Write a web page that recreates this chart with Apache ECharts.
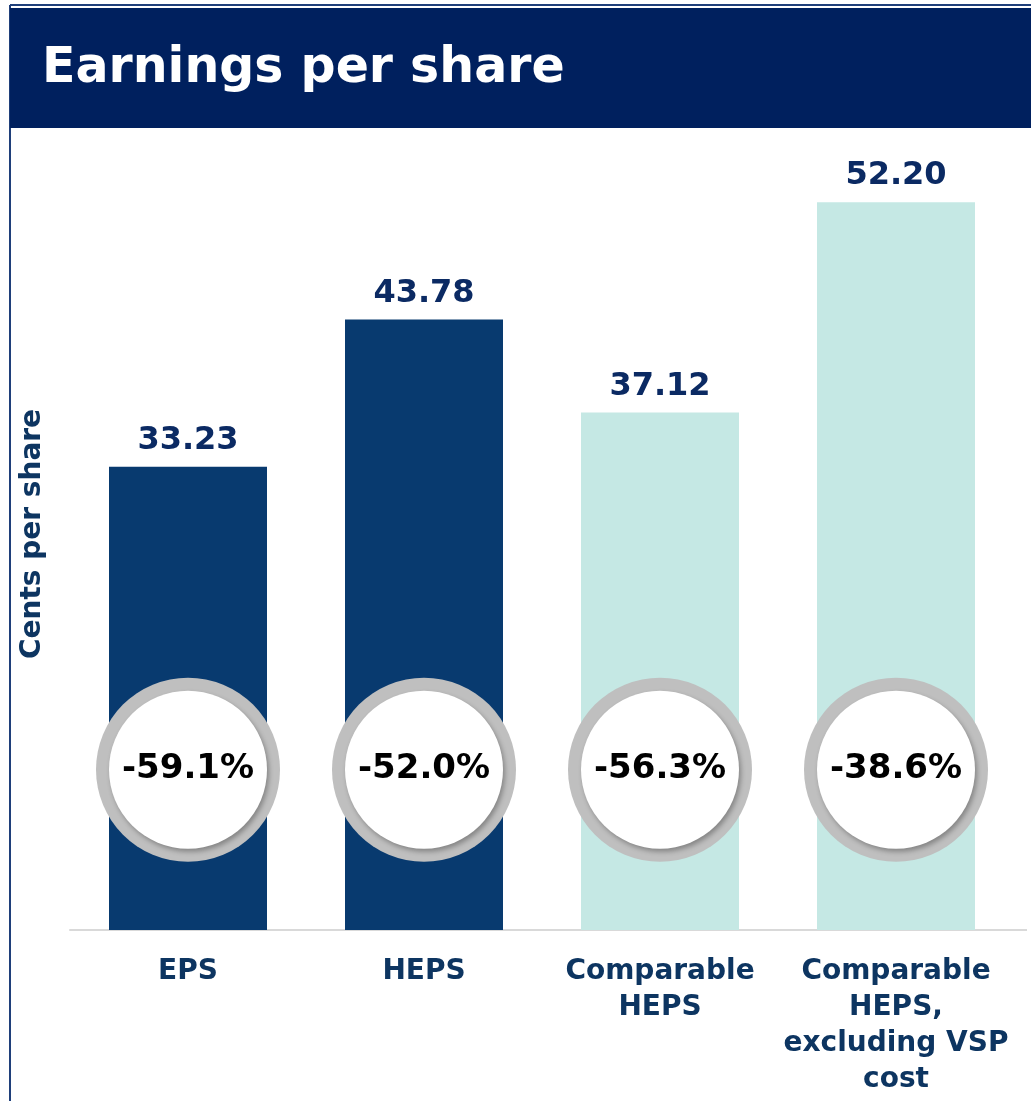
<!DOCTYPE html>
<html>
<head>
<meta charset="utf-8">
<title>Earnings per share</title>
<script src="https://cdn.jsdelivr.net/npm/echarts@6/dist/echarts.min.js"></script>
<style>
  html, body { margin: 0; padding: 0; background: #fff; }
  #chart { width: 1031px; height: 1101px; }
</style>
</head>
<body>
<div id="chart"></div>
<script>
// data
const categories = ['EPS', 'HEPS', 'Comparable\nHEPS', 'Comparable\nHEPS,\nexcluding VSP\ncost']
const centsPerShare = [33.23, 43.78, 37.12, 52.20]
const changes = ['-59.1%', '-52.0%', '-56.3%', '-38.6%']
const barColors = ['#083a6f', '#083a6f', '#c5e8e4', '#c5e8e4']

const fontFamily = '"DejaVu Sans", Verdana, sans-serif'
const navy = '#0b2a63'
const ringLevel = 11.5 // where the % badges sit, in axis units

const chart = echarts.init(document.getElementById('chart'))

chart.setOption({
  animation: false,
  textStyle: { fontFamily: fontFamily },
  graphic: [
    { type: 'line', shape: { x1: 10, y1: 5, x2: 1031, y2: 5 }, style: { stroke: '#1f3f7a', lineWidth: 2 } },
    { type: 'line', shape: { x1: 10, y1: 5, x2: 10, y2: 1101 }, style: { stroke: '#1f3f7a', lineWidth: 2 } },
    { type: 'rect', shape: { x: 10, y: 8, width: 1021, height: 120 }, style: { fill: '#00205e' } },
    // baseline runs a little past the last bar on the slide
    { type: 'line', shape: { x1: 1013, y1: 930, x2: 1027, y2: 930 }, style: { stroke: '#d9d9d9', lineWidth: 2 } },
    {
      type: 'text',
      left: 42,
      top: 45,
      style: {
        text: 'Earnings per share',
        fill: '#fff',
        font: 'bold 49px ' + fontFamily
      }
    }
  ],
  grid: {
    left: 70,
    right: 17,
    top: 138,
    bottom: 171
  },
  xAxis: {
    type: 'category',
    data: categories,
    axisLine: { lineStyle: { color: '#d9d9d9', width: 2 } },
    axisTick: { show: false },
    axisLabel: {
      interval: 0,
      margin: 24,
      color: '#0d3561',
      fontSize: 28,
      fontWeight: 'bold',
      lineHeight: 36
    }
  },
  yAxis: {
    type: 'value',
    min: 0,
    max: 56.8,
    splitLine: { show: false },
    axisLine: { show: false },
    axisLabel: { show: false },
    axisTick: { show: false },
    name: 'Cents per share',
    nameLocation: 'middle',
    nameRotate: 90,
    nameGap: 23,
    nameTextStyle: {
      color: '#0d3561',
      fontSize: 28,
      fontWeight: 'bold'
    }
  },
  series: [
    {
      type: 'bar',
      barWidth: 158,
      data: centsPerShare.map((v, i) => ({ value: v, itemStyle: { color: barColors[i] } })),
      label: {
        show: true,
        position: 'top',
        distance: 10,
        color: navy,
        fontSize: 32,
        fontWeight: 'bold',
        formatter: p => p.value.toFixed(2)
      },
      z: 1
    },
    {
      type: 'scatter',
      symbol: 'circle',
      symbolSize: 184,
      data: categories.map(() => ringLevel),
      itemStyle: { color: '#bfbfbf', opacity: 1 },
      silent: true,
      z: 2
    },
    {
      type: 'scatter',
      symbol: 'circle',
      symbolSize: 158,
      data: categories.map(() => ringLevel),
      itemStyle: {
        color: '#fff',
        opacity: 1,
        shadowBlur: 5,
        shadowOffsetX: 2,
        shadowOffsetY: 3,
        shadowColor: 'rgba(0,0,0,0.3)'
      },
      label: {
        show: true,
        position: 'inside',
        color: '#000',
        fontSize: 34,
        fontWeight: 'bold',
        formatter: p => changes[p.dataIndex]
      },
      silent: true,
      z: 3
    }
  ]
})
</script>
</body>
</html>
